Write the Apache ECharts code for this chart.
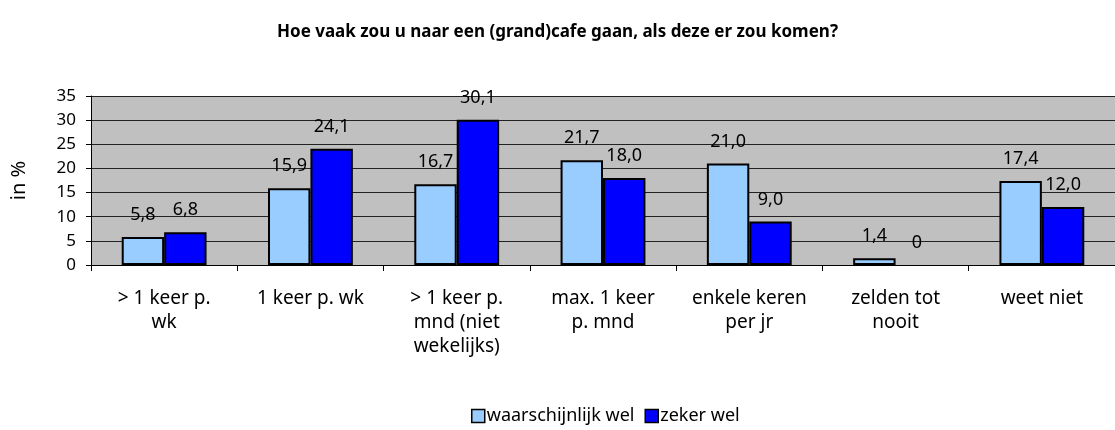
<!DOCTYPE html>
<html>
<head>
<meta charset="utf-8">
<script src="https://cdn.jsdelivr.net/npm/echarts@6/dist/echarts.min.js"></script>
<style>
  html, body { margin: 0; padding: 0; background: #fff; }
  #b { width: 1115px; height: 430px; }
</style>
</head>
<body>
<div id="b"></div>
<script>
var categories = ['> 1 keer p.\nwk', '1 keer p. wk', '> 1 keer p.\nmnd (niet\nwekelijks)', 'max. 1 keer\np. mnd', 'enkele keren\nper jr', 'zelden tot\nnooit', 'weet niet'];
var waarschijnlijk = [5.8, 15.9, 16.7, 21.7, 21.0, 1.4, 17.4];
var zeker = [6.8, 24.1, 30.1, 18.0, 9.0, 0, 12.0];
var yTicks = [0, 5, 10, 15, 20, 25, 30, 35];

var font = '"Noto Sans", sans-serif';

function fmt(p) {
  return p.value === 0 ? '0' : p.value.toFixed(1).replace('.', ',');
}

// geen rand tekenen bij een waarde van 0
function rows(arr) {
  return arr.map(function (v) {
    return v === 0 ? { value: v, itemStyle: { borderWidth: 0 } } : v;
  });
}

var myChart = echarts.init(document.getElementById('b'));
var option = {
  animation: false,
  title: {
    text: 'Hoe vaak zou u naar een (grand)cafe gaan, als deze er zou komen?',
    left: 'center',
    top: 19,
    textStyle: { fontFamily: font, fontSize: 17, fontWeight: 'bold', color: '#000' }
  },
  legend: {
    data: ['waarschijnlijk wel', 'zeker wel'],
    bottom: 0,
    left: 466,
    itemWidth: 13,
    itemHeight: 13,
    itemGap: 10,
    icon: 'rect',
    textStyle: { fontFamily: font, fontSize: 18, color: '#000', padding: [0, 0, 0, -3] },
    itemStyle: { borderColor: '#000', borderWidth: 1.5 }
  },
  grid: {
    left: 91,
    right: 0,
    top: 96,
    bottom: 165,
    show: true,
    backgroundColor: '#c0c0c0',
    borderWidth: 0
  },
  xAxis: {
    type: 'category',
    data: categories,
    axisLine: { lineStyle: { color: '#000', width: 1 } },
    axisTick: { show: true, length: 6, lineStyle: { color: '#000' } },
    axisLabel: {
      fontFamily: font, fontSize: 19, color: '#000', lineHeight: 24, margin: 22, interval: 0
    }
  },
  yAxis: {
    type: 'value',
    min: yTicks[0],
    max: yTicks[yTicks.length - 1],
    interval: 5,
    name: 'in %',
    nameLocation: 'middle',
    nameGap: 62,
    nameTextStyle: { fontFamily: font, fontSize: 20, color: '#000' },
    axisLine: { show: true, lineStyle: { color: '#000' } },
    axisTick: { show: true, length: 5, lineStyle: { color: '#000' } },
    axisLabel: { fontFamily: font, fontSize: 17, color: '#000', margin: 15 },
    splitLine: { show: true, lineStyle: { color: '#222', width: 1 } }
  },
  series: [
    {
      name: 'waarschijnlijk wel',
      type: 'bar',
      data: rows(waarschijnlijk),
      barGap: '0%',
      barCategoryGap: '42%',
      itemStyle: { color: '#99ccff', borderColor: '#000', borderWidth: 2 },
      label: { show: true, position: 'top', distance: 13, formatter: fmt, fontFamily: font, fontSize: 18, color: '#000' }
    },
    {
      name: 'zeker wel',
      type: 'bar',
      data: rows(zeker),
      itemStyle: { color: '#0000ff', borderColor: '#000', borderWidth: 2 },
      label: { show: true, position: 'top', distance: 13, formatter: fmt, fontFamily: font, fontSize: 18, color: '#000' }
    }
  ]
};
option && myChart.setOption(option);
</script>
</body>
</html>
